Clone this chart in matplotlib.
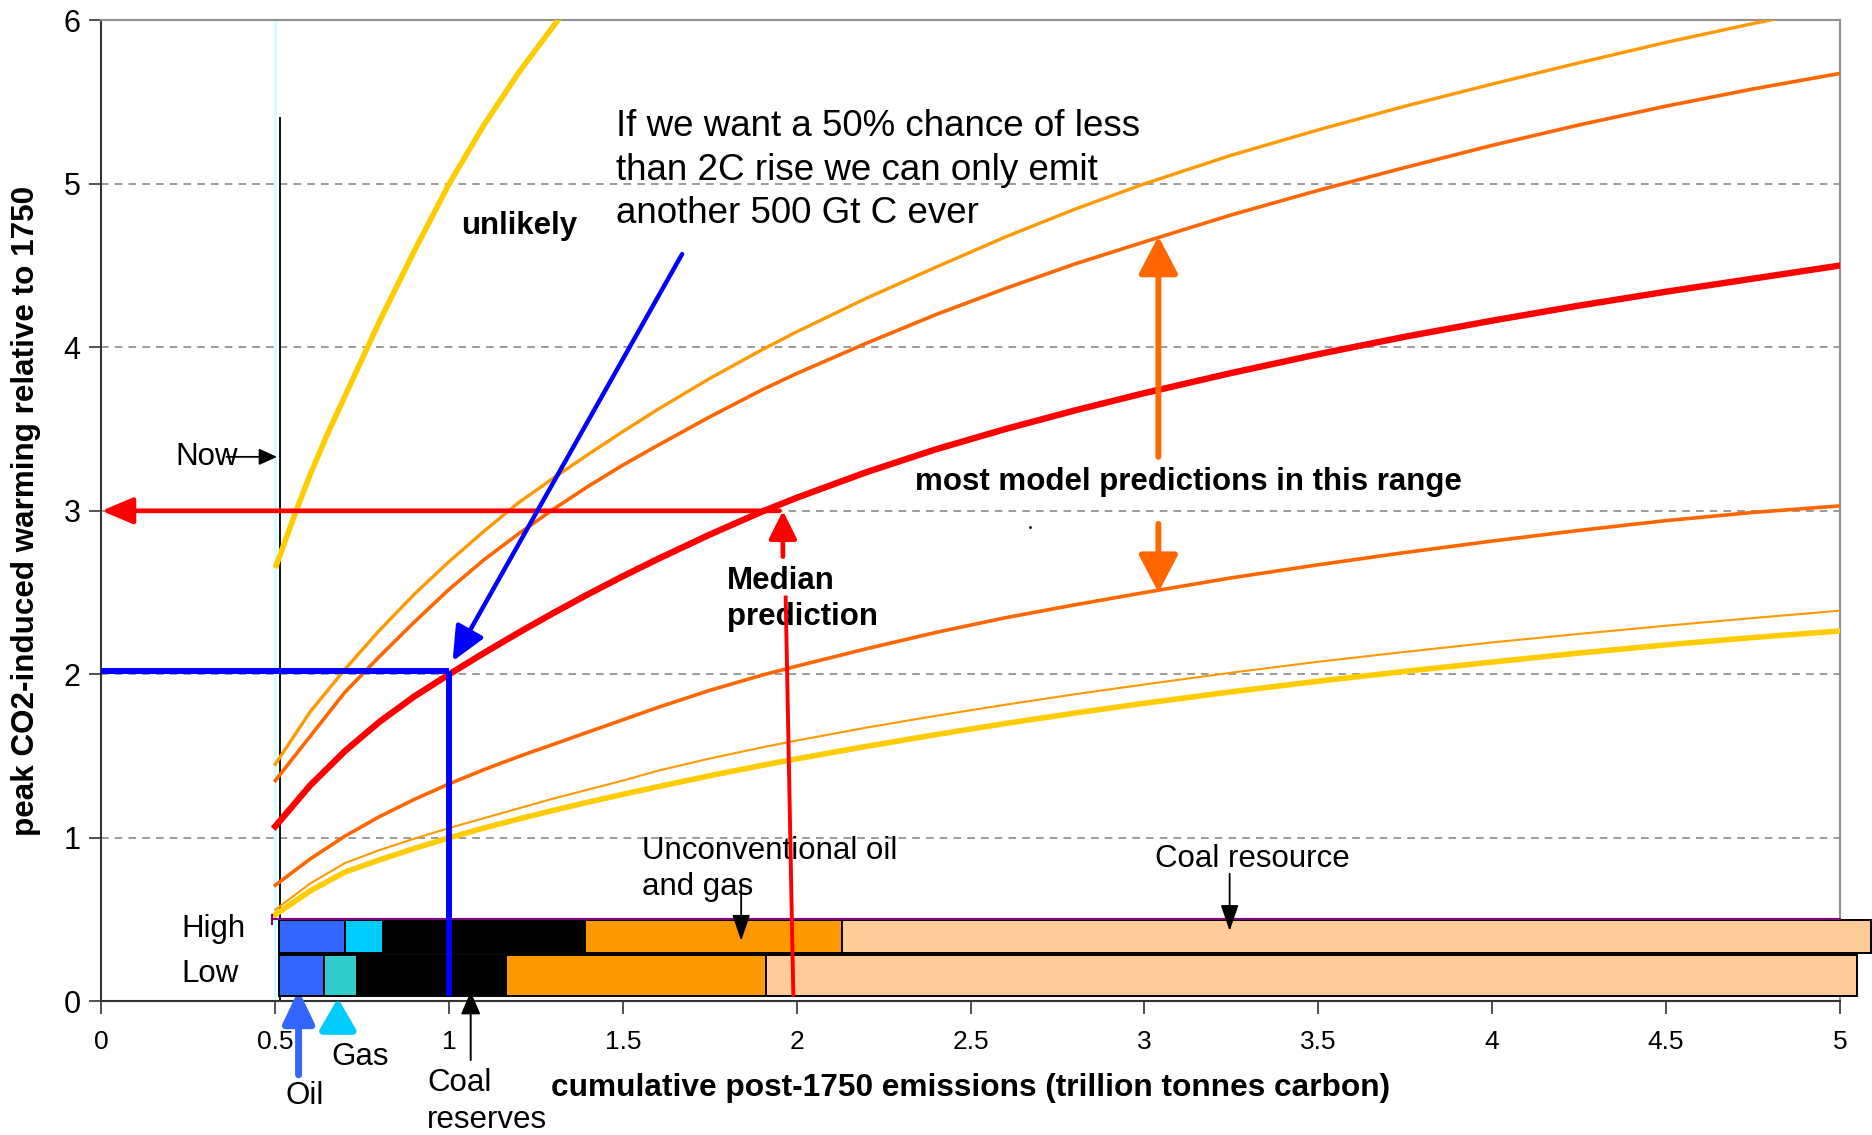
import numpy as np
import matplotlib
matplotlib.use("Agg")
import matplotlib.pyplot as plt

plt.rcParams['font.family'] = ['Liberation Sans', 'DejaVu Sans']

# ---- data ----
xs = [0.5, 0.6, 0.7, 0.8, 0.9, 1.0, 1.1, 1.2, 1.3, 1.4, 1.5, 1.6, 1.75, 1.9, 2.0,
      2.2, 2.4, 2.6, 2.8, 3.0, 3.25, 3.5, 3.75, 4.0, 4.25, 4.5, 4.75, 5.0]
median = [1.07, 1.32, 1.53, 1.71, 1.865, 2.0, 2.13, 2.255, 2.375, 2.49, 2.60, 2.705, 2.855, 2.995, 3.08,
          3.236, 3.376, 3.50, 3.614, 3.72, 3.843, 3.958, 4.065, 4.163, 4.255, 4.34, 4.42, 4.50]
upper_dark = [1.35, 1.62, 1.89, 2.11, 2.32, 2.52, 2.70, 2.86, 3.01, 3.15, 3.28, 3.40, 3.575, 3.74, 3.84,
              4.025, 4.20, 4.36, 4.51, 4.645, 4.81, 4.96, 5.10, 5.235, 5.36, 5.475, 5.58, 5.675]
upper_light = [1.45, 1.77, 2.03, 2.27, 2.49, 2.69, 2.875, 3.05, 3.20, 3.345, 3.485, 3.62, 3.81, 3.985, 4.095,
               4.30, 4.49, 4.675, 4.845, 5.0, 5.175, 5.33, 5.475, 5.61, 5.74, 5.865, 5.98, 6.09]
lower_dark = [0.71, 0.87, 1.01, 1.13, 1.235, 1.33, 1.417, 1.497, 1.572, 1.647, 1.722, 1.797, 1.902, 1.995, 2.05,
              2.156, 2.256, 2.346, 2.425, 2.50, 2.59, 2.67, 2.745, 2.815, 2.88, 2.94, 2.99, 3.03]
lower_thin = [0.56, 0.72, 0.845, 0.925, 0.995, 1.06, 1.12, 1.18, 1.24, 1.295, 1.35, 1.41, 1.485, 1.553, 1.595,
              1.674, 1.746, 1.814, 1.878, 1.938, 2.01, 2.077, 2.137, 2.195, 2.247, 2.297, 2.344, 2.389]
lower_yellow = [0.53, 0.675, 0.79, 0.865, 0.935, 1.0, 1.06, 1.115, 1.168, 1.218, 1.266, 1.312, 1.38, 1.443, 1.483,
                1.559, 1.631, 1.699, 1.763, 1.823, 1.893, 1.958, 2.018, 2.075, 2.13, 2.18, 2.225, 2.265]
steep_x = [0.5, 0.56, 0.6, 0.65, 0.7, 0.8, 0.9, 1.0, 1.1, 1.2, 1.33]
steep_y = [2.65, 3.0, 3.22, 3.47, 3.70, 4.16, 4.59, 5.0, 5.36, 5.68, 6.05]

fuels = ['Oil', 'Gas', 'Coal reserves', 'Unconventional oil and gas', 'Coal resource']
high_edges = [0.51, 0.70, 0.81, 1.39, 2.13, 5.09]
low_edges = [0.51, 0.64, 0.735, 1.165, 1.91, 5.05]
high_colors = ['#3366FF', '#00CCFF', '#000000', '#FF9900', '#FFCC99']
low_colors = ['#3366FF', '#33CCCC', '#000000', '#FF9900', '#FFCC99']

xticks = [0, 0.5, 1, 1.5, 2, 2.5, 3, 3.5, 4, 4.5, 5]
xticklabels = ['0', '0.5', '1', '1.5', '2', '2.5', '3', '3.5', '4', '4.5', '5']
yticks = [0, 1, 2, 3, 4, 5, 6]

FS = 22.5

# ---- figure ----
fig = plt.figure(figsize=(18.72, 11.35), dpi=100)
ax = fig.add_axes([0.0542, 0.1178, 0.9286, 0.8643])
ax.set_xlim(0, 5)
ax.set_ylim(0, 6)

for yv in [1, 2, 3, 4, 5]:
    ax.axhline(yv, color='#808080', lw=1.1, ls=(0, (5, 4)), zorder=0)

# vertical "now" lines
ax.plot([0.5, 0.5], [0, 6], color='#CCFFFF', lw=1.8, zorder=1)
ax.plot([0.513, 0.513], [0, 5.4], color='black', lw=1.3, zorder=2)

kw = dict(solid_joinstyle='round')
ax.plot(steep_x, steep_y, color='#FFCC00', lw=4.0, zorder=3, solid_capstyle='butt', **kw)
ax.plot(xs, upper_light, color='#FF9900', lw=2.4, zorder=3, **kw)
ax.plot(xs, upper_dark, color='#FF6600', lw=2.6, zorder=3, **kw)
ax.plot(xs, lower_dark, color='#FF6600', lw=2.6, zorder=3, **kw)
ax.plot(xs, lower_thin, color='#FF9900', lw=1.5, zorder=3, **kw)
ax.plot(xs, lower_yellow, color='#FFCC00', lw=4.0, zorder=3, **kw)
ax.plot(xs, median, color='#FF0000', lw=4.6, zorder=4, **kw)

# fuel bars
hw = np.diff(high_edges)
lw_ = np.diff(low_edges)
ax.barh([0.397] * 5, hw, left=high_edges[:-1], height=0.206, color=high_colors,
        edgecolor='black', linewidth=1.4, clip_on=False, zorder=5)
ax.barh([0.16] * 5, lw_, left=low_edges[:-1], height=0.25, color=low_colors,
        edgecolor='black', linewidth=1.4, clip_on=False, zorder=5)
ax.plot([0.49, 5.0], [0.505, 0.505], color='#800080', lw=1.5, zorder=6, clip_on=False)
ax.plot([0.49, 0.49], [0.47, 0.53], color='#800080', lw=1.5, zorder=6)

# red arrows (median)
ax.annotate('', xy=(0.0, 3.0), xytext=(1.95, 3.0),
            arrowprops=dict(arrowstyle='-|>,head_length=1.9,head_width=0.8', color='#FF0000', lw=3.4,
                            shrinkA=0, shrinkB=0),
            annotation_clip=False, zorder=7)
ax.annotate('', xy=(1.96, 3.0), xytext=(1.96, 2.72),
            arrowprops=dict(arrowstyle='-|>,head_length=1.7,head_width=0.85', color='#FF0000', lw=3.4,
                            shrinkA=0, shrinkB=0), zorder=7)
ax.plot([1.968, 1.99], [2.47, 0.04], color='#FF0000', lw=2.8, zorder=7)

# blue lines
ax.plot([0.0, 1.0], [2.02, 2.02], color='#0000FF', lw=4.3, zorder=7, solid_capstyle='butt')
ax.plot([1.0, 1.0], [2.02, 0.03], color='#0000FF', lw=4.3, zorder=7, solid_capstyle='butt')
ax.annotate('', xy=(1.01, 2.08), xytext=(1.67, 4.57),
            arrowprops=dict(arrowstyle='-|>,head_length=2.1,head_width=0.95', color='#0000FF', lw=3.2,
                            shrinkA=0, shrinkB=0), zorder=7)

# orange range arrows
ax.annotate('', xy=(3.04, 4.68), xytext=(3.04, 3.33),
            arrowprops=dict(arrowstyle='-|>,head_length=2.3,head_width=1.2', color='#FF6600', lw=4.2,
                            shrinkA=0, shrinkB=0), zorder=7)
ax.annotate('', xy=(3.04, 2.5), xytext=(3.04, 2.92),
            arrowprops=dict(arrowstyle='-|>,head_length=2.3,head_width=1.2', color='#FF6600', lw=4.2,
                            shrinkA=0, shrinkB=0), zorder=7)

# Now
ax.text(0.213, 3.33, 'Now', fontsize=FS, va='center', ha='left', zorder=8)
ax.annotate('', xy=(0.505, 3.33), xytext=(0.36, 3.33),
            arrowprops=dict(arrowstyle='-|>,head_length=1.1,head_width=0.5', color='black', lw=1.3,
                            shrinkA=0, shrinkB=0), zorder=8)

ax.text(1.48, 5.46, 'If we want a 50% chance of less\nthan 2C rise we can only emit\nanother 500 Gt C ever',
        fontsize=26.5, ha='left', va='top', linespacing=1.33, zorder=8)
ax.text(1.035, 4.74, 'unlikely', fontsize=FS, fontweight='bold', va='center', ha='left')
ax.text(2.34, 3.175, 'most model predictions in this range', fontsize=FS, fontweight='bold', va='center', ha='left')
ax.text(1.80, 2.46, 'Median\nprediction', fontsize=FS, fontweight='bold', va='center', ha='left', linespacing=1.25)
ax.text(1.555, 0.81, 'Unconventional oil\nand gas', fontsize=FS, va='center', ha='left', linespacing=1.25)
ax.annotate('', xy=(1.84, 0.37), xytext=(1.84, 0.72),
            arrowprops=dict(arrowstyle='-|>,head_length=1.6,head_width=0.55', color='black', lw=1.3,
                            shrinkA=0, shrinkB=0), zorder=8)
ax.text(3.03, 0.87, 'Coal resource', fontsize=FS, va='center', ha='left')
ax.annotate('', xy=(3.245, 0.43), xytext=(3.245, 0.78),
            arrowprops=dict(arrowstyle='-|>,head_length=1.6,head_width=0.55', color='black', lw=1.3,
                            shrinkA=0, shrinkB=0), zorder=8)
ax.text(0.23, 0.44, 'High', fontsize=FS, va='center', ha='left')
ax.text(0.23, 0.17, 'Low', fontsize=FS, va='center', ha='left')
ax.plot([2.67], [2.9], marker='.', color='black', ms=2)

# arrows below axis
ax.annotate('', xy=(0.567, 0.07), xytext=(0.567, -0.45),
            arrowprops=dict(arrowstyle='-|>,head_length=2.0,head_width=0.95', color='#3366FF', lw=5,
                            shrinkA=0, shrinkB=0), annotation_clip=False)
ax.annotate('', xy=(0.68, 0.02), xytext=(0.68, -0.18),
            arrowprops=dict(arrowstyle='-|>,head_length=1.9,head_width=1.1', color='#00CCFF', lw=5,
                            shrinkA=0, shrinkB=0), annotation_clip=False)
ax.annotate('', xy=(1.062, 0.06), xytext=(1.062, -0.36),
            arrowprops=dict(arrowstyle='-|>,head_length=1.4,head_width=0.6', color='black', lw=1.4,
                            shrinkA=0, shrinkB=0), annotation_clip=False)
ax.text(0.585, -0.58, 'Oil', fontsize=FS, ha='center', va='center', clip_on=False)
ax.text(0.745, -0.34, 'Gas', fontsize=FS, ha='center', va='center', clip_on=False)
ax.text(0.937, -0.615, 'Coal\nreserves', fontsize=FS, ha='left', va='center', clip_on=False, linespacing=1.3)

# axes styling
ax.set_xticks(xticks)
ax.set_xticklabels(xticklabels, fontsize=19)
ax.set_yticks(yticks)
ax.set_yticklabels([str(v) for v in yticks], fontsize=22)
ax.tick_params(axis='both', direction='out', length=9, width=1.2, color='#333333')
ax.tick_params(axis='x', pad=12)
ax.tick_params(axis='y', pad=6)
ax.spines['left'].set_color('#333333')
ax.spines['bottom'].set_color('#333333')
ax.spines['top'].set_color('#909090')
ax.spines['right'].set_color('#909090')
for s in ax.spines.values():
    s.set_linewidth(1.5)

fig.text(813 / 1568, 1 - 912 / 951, 'cumulative post-1750 emissions (trillion tonnes carbon)',
         fontsize=22.8, fontweight='bold', ha='center', va='center')
fig.text(22 / 1568, 1 - 428 / 951, 'peak CO2-induced warming relative to 1750',
         fontsize=22.6, fontweight='bold', ha='center', va='center', rotation=90)

fig.savefig('out.png', dpi=100)
